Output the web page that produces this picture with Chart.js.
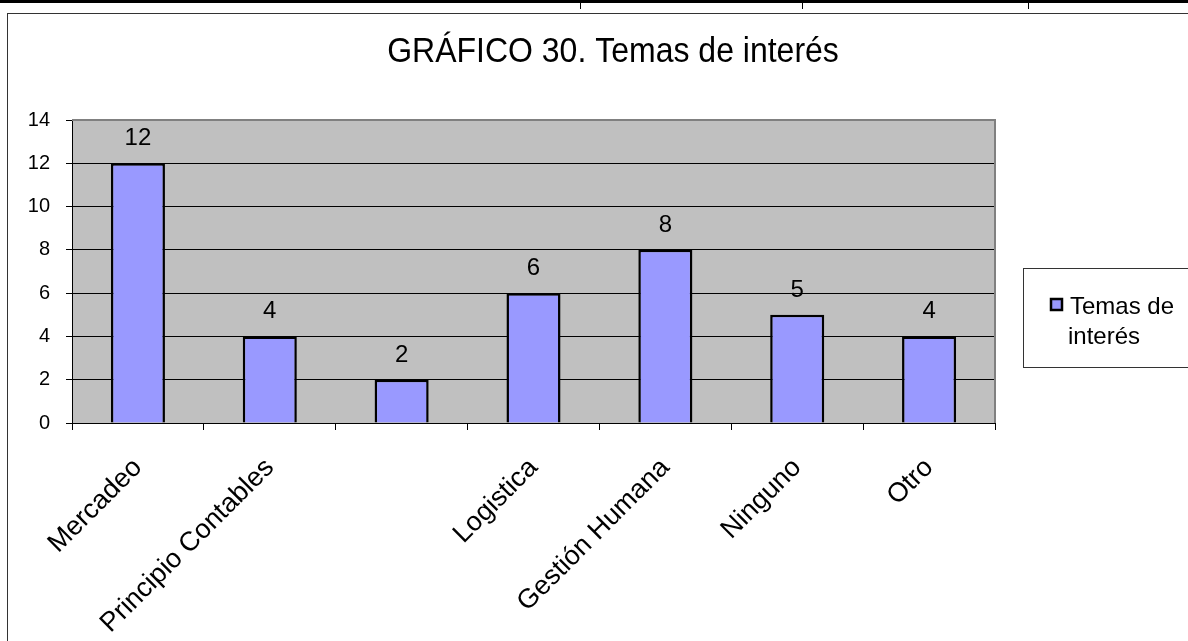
<!DOCTYPE html>
<html>
<head>
<meta charset="utf-8">
<script src="https://cdn.jsdelivr.net/npm/chart.js@4"></script>
<style>
  html, body { margin: 0; padding: 0; background: #fff; }
  canvas { display: block; }
</style>
</head>
<body>
<canvas id="chart" width="1188" height="641"></canvas>
<script>
// data
const categories = ['Mercadeo', 'Principio Contables', '', 'Logistica', 'Gestión Humana', 'Ninguno', 'Otro'];
const values = [12, 4, 2, 6, 8, 5, 4];
const seriesName = 'Temas de interés';
const chartTitle = 'GRÁFICO 30. Temas de interés';
const yTicks = [0, 2, 4, 6, 8, 10, 12, 14];

const FONT = '"Liberation Sans", Arial, sans-serif';

// frame, title, plot background, value labels and the legend box
const decor = {
  id: 'decor',
  beforeDraw(chart) {
    const ctx = chart.ctx;
    const a = chart.chartArea;
    ctx.save();
    ctx.fillStyle = '#fff';
    ctx.fillRect(0, 0, chart.width, chart.height);
    // table lines at the very top
    ctx.fillStyle = '#000';
    ctx.fillRect(0, 0, chart.width, 3);
    [580, 802, 1028].forEach(x => ctx.fillRect(x, 0, 1, 9));
    // outer frame
    ctx.strokeStyle = '#333';
    ctx.lineWidth = 1;
    ctx.strokeRect(7.5, 13.5, chart.width + 10, chart.height + 10);
    // title, a little taller than wide like the original
    ctx.fillStyle = '#000';
    ctx.font = '32px ' + FONT;
    ctx.textAlign = 'center';
    ctx.textBaseline = 'alphabetic';
    ctx.translate(613, 62);
    ctx.scale(1, 1.08);
    ctx.fillText(chartTitle, 0, 0);
    ctx.setTransform(1, 0, 0, 1, 0, 0);
    // plot area
    ctx.fillStyle = '#c0c0c0';
    ctx.fillRect(a.left, a.top, a.right - a.left, a.bottom - a.top);
    ctx.restore();
  },
  afterDatasetsDraw(chart) {
    const ctx = chart.ctx;
    const a = chart.chartArea;
    ctx.save();
    // grey border top and right
    ctx.strokeStyle = '#808080';
    ctx.lineWidth = 2;
    ctx.beginPath();
    ctx.moveTo(a.left, a.top);
    ctx.lineTo(a.right, a.top);
    ctx.lineTo(a.right, a.bottom);
    ctx.stroke();
    // value labels
    ctx.fillStyle = '#000';
    ctx.font = '24px ' + FONT;
    ctx.textAlign = 'center';
    ctx.textBaseline = 'alphabetic';
    chart.getDatasetMeta(0).data.forEach((bar, i) => {
      ctx.fillText(String(values[i]), bar.x, bar.y - 18);
    });
    // legend
    ctx.fillStyle = '#fff';
    ctx.fillRect(1023, 268, 175, 99);
    ctx.strokeStyle = '#333';
    ctx.lineWidth = 1;
    ctx.strokeRect(1023.5, 268.5, 175, 99);
    ctx.fillStyle = '#9999ff';
    ctx.fillRect(1051, 299, 11, 11);
    ctx.strokeStyle = '#000';
    ctx.lineWidth = 2.5;
    ctx.strokeRect(1051, 299, 11, 11);
    ctx.fillStyle = '#000';
    ctx.font = '24px ' + FONT;
    ctx.textAlign = 'left';
    const words = seriesName.split(' ');
    ctx.fillText(words.slice(0, 2).join(' '), 1070, 314);
    ctx.fillText(words.slice(2).join(' '), 1068, 344);
    ctx.restore();
  }
};

new Chart(document.getElementById('chart'), {
  type: 'bar',
  data: {
    labels: categories,
    datasets: [{
      label: seriesName,
      data: values,
      backgroundColor: '#9999ff',
      borderColor: '#000',
      borderWidth: 2.5,
      categoryPercentage: 1,
      barPercentage: 0.41
    }]
  },
  options: {
    responsive: false,
    animation: false,
    devicePixelRatio: 1,
    layout: { padding: { left: 0, top: 120, right: 193, bottom: 0 } },
    plugins: {
      legend: { display: false },
      title: { display: false },
      tooltip: { enabled: false }
    },
    scales: {
      x: {
        offset: true,
        grid: { display: true, drawOnChartArea: false, drawTicks: true, tickLength: 7, color: '#000', offset: true },
        border: { display: true, color: '#000', width: 1 },
        ticks: { color: '#000', font: { family: FONT, size: 27 }, minRotation: 45, maxRotation: 45, autoSkip: false, padding: 22 },
        afterFit(scale) { scale.height = 218; scale.paddingLeft = 0; scale.paddingRight = 0; }
      },
      y: {
        min: 0,
        max: 14,
        afterBuildTicks(scale) { scale.ticks = yTicks.map(v => ({ value: v })); },
        grid: { color: '#000', tickLength: 6, drawTicks: true },
        border: { display: true, color: '#000', width: 1 },
        ticks: { color: '#000', font: { family: FONT, size: 20 }, padding: 16 },
        afterFit(scale) { scale.width = 72; }
      }
    }
  },
  plugins: [decor]
});
</script>
</body>
</html>
